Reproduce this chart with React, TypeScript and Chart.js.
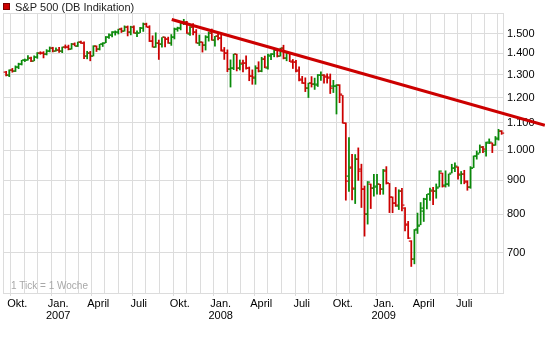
import React, { useEffect, useRef } from 'react';
import { Chart, registerables } from 'chart.js';

Chart.register(...registerables);

const SERIES_LABEL = 'S&P 500 (DB Indikation)';
const NOTE_TEXT = '1 Tick = 1 Woche';
const FIRST_WEEK = '2006-09-04';
const X_RANGE = ['2006-08-30', '2009-09-26'];
const Y_RANGE = [608, 1611];
const Y_TICKS = [700, 800, 900, 1000, 1100, 1200, 1300, 1400, 1500];
const MONTH_LABELS: Record<number, string> = { 9: 'Okt.', 0: 'Jan.', 3: 'April', 6: 'Juli' };

const TREND_DATES = ['2007-09-13', '2009-12-29'];
const TREND_VALUES = [1575, 1090];

const opens = [
  1311.0, 1298.9, 1319.7, 1314.8, 1335.8, 1349.6, 1365.6, 1368.6, 1377.3, 1364.3,
  1380.6, 1401.2, 1400.9, 1396.7, 1409.8, 1427.1, 1410.8, 1418.0, 1409.3, 1430.7,
  1430.5, 1422.0, 1448.3, 1438.0, 1455.5, 1451.0, 1387.1, 1402.8, 1387.0, 1436.1,
  1420.8, 1443.8, 1452.9, 1484.4, 1494.1, 1505.6, 1505.9, 1522.8, 1515.6, 1536.3,
  1507.7, 1532.9, 1502.6, 1504.7, 1530.4, 1552.5, 1534.1, 1459.0, 1433.0, 1453.4,
  1445.6, 1479.4, 1474.0, 1453.5, 1484.3, 1525.8, 1527.3, 1556.5, 1562.0, 1497.8,
  1536.0, 1505.6, 1453.4, 1456.7, 1440.7, 1479.6, 1505.1, 1465.1, 1484.6, 1478.1,
  1414.9, 1402.9, 1325.2, 1330.7, 1395.4, 1331.1, 1355.9, 1352.8, 1330.5, 1293.2,
  1283.2, 1330.3, 1315.9, 1373.7, 1332.2, 1387.7, 1398.0, 1415.3, 1389.4, 1425.3,
  1376.0, 1399.6, 1360.8, 1360.3, 1319.8, 1278.1, 1262.9, 1239.5, 1261.8, 1257.8,
  1253.3, 1296.3, 1298.1, 1290.5, 1287.8, 1249.5, 1250.9, 1255.4, 1209.1, 1097.6,
  912.8, 941.0, 874.3, 968.7, 936.8, 873.2, 801.2, 888.6, 876.1, 881.1,
  887.2, 872.4, 929.2, 890.4, 849.6, 832.5, 823.1, 868.2, 818.6, 773.3,
  729.6, 683.3, 758.8, 771.0, 809.1, 842.3, 856.9, 868.3, 866.2, 879.2,
  923.0, 886.1, 887.0, 923.3, 940.4, 943.4, 918.1, 919.9, 894.3, 879.6,
  940.6, 978.6, 990.2, 1008.9, 998.2, 1026.6, 1025.2, 1016.4, 1040.0, 1068.0,
];
const highs = [
  1314.7, 1322.0, 1328.5, 1340.3, 1353.0, 1366.6, 1372.9, 1389.5, 1381.9, 1388.0,
  1403.8, 1407.9, 1408.3, 1418.3, 1431.6, 1430.0, 1427.7, 1429.4, 1431.2, 1441.6,
  1440.7, 1449.3, 1452.0, 1456.1, 1461.6, 1456.9, 1410.1, 1409.5, 1437.7, 1437.0,
  1444.9, 1453.1, 1484.7, 1498.0, 1510.3, 1513.8, 1522.8, 1529.3, 1540.6, 1540.0,
  1538.7, 1540.4, 1514.3, 1532.4, 1555.9, 1555.2, 1541.5, 1488.3, 1503.9, 1466.3,
  1479.4, 1481.5, 1481.5, 1494.6, 1529.0, 1533.7, 1561.2, 1576.1, 1564.7, 1536.9,
  1552.8, 1520.8, 1492.1, 1456.7, 1488.9, 1508.3, 1523.6, 1485.4, 1498.9, 1492.5,
  1429.0, 1417.0, 1368.6, 1396.0, 1396.0, 1368.0, 1367.9, 1388.3, 1335.1, 1321.7,
  1341.0, 1359.7, 1380.9, 1386.7, 1395.9, 1399.1, 1415.0, 1415.3, 1425.8, 1440.2,
  1406.3, 1404.1, 1370.6, 1366.6, 1335.6, 1292.2, 1285.7, 1262.3, 1291.2, 1284.4,
  1300.7, 1313.2, 1300.2, 1303.7, 1303.0, 1274.4, 1255.8, 1255.5, 1209.1, 1099.3,
  1044.3, 985.4, 984.4, 1007.5, 952.0, 882.3, 896.3, 888.6, 918.9, 918.9,
  887.4, 934.7, 943.9, 890.4, 849.6, 877.9, 870.8, 875.0, 818.6, 780.1,
  729.6, 758.3, 803.0, 833.0, 845.6, 856.9, 875.6, 878.6, 888.7, 930.2,
  923.0, 930.2, 920.0, 951.7, 956.2, 943.4, 928.0, 931.9, 898.7, 944.0,
  979.8, 996.7, 1018.0, 1013.1, 1027.6, 1039.5, 1025.2, 1048.2, 1074.8, 1070.0,
];
const lows = [
  1294.1, 1290.9, 1310.9, 1313.9, 1327.1, 1344.3, 1360.2, 1366.7, 1360.0, 1364.0,
  1375.6, 1395.4, 1377.8, 1392.0, 1407.0, 1406.8, 1410.4, 1403.9, 1403.3, 1424.8,
  1416.9, 1420.2, 1436.6, 1433.5, 1449.5, 1374.1, 1373.4, 1364.0, 1387.0, 1408.9,
  1416.4, 1433.8, 1452.9, 1474.4, 1481.8, 1491.4, 1497.5, 1505.2, 1511.9, 1487.4,
  1492.7, 1502.3, 1484.2, 1504.7, 1510.9, 1533.7, 1458.4, 1430.5, 1429.4, 1370.6,
  1430.5, 1432.0, 1449.6, 1439.3, 1471.8, 1511.8, 1518.9, 1546.7, 1500.3, 1490.0,
  1492.8, 1450.9, 1438.5, 1406.1, 1416.0, 1460.7, 1465.0, 1435.7, 1467.0, 1411.2,
  1370.6, 1313.2, 1245.0, 1322.6, 1316.8, 1321.1, 1312.9, 1325.2, 1272.7, 1257.0,
  1257.0, 1312.0, 1312.8, 1331.3, 1324.4, 1369.8, 1383.1, 1382.2, 1386.2, 1373.1,
  1364.1, 1359.9, 1328.0, 1312.6, 1272.0, 1260.7, 1225.4, 1200.4, 1245.0, 1234.7,
  1247.5, 1274.6, 1261.9, 1262.2, 1217.2, 1221.4, 1133.5, 1179.0, 1097.6, 839.8,
  865.8, 840.9, 830.0, 899.7, 818.7, 741.0, 772.7, 815.7, 851.4, 857.7,
  857.1, 857.3, 888.3, 804.3, 804.0, 821.7, 812.9, 808.7, 754.3, 734.5,
  666.8, 672.9, 747.9, 771.0, 779.8, 814.5, 838.8, 826.8, 845.5, 879.2,
  878.9, 878.9, 881.5, 923.3, 927.6, 903.8, 888.9, 889.1, 869.3, 875.3,
  940.6, 968.7, 990.2, 990.6, 978.5, 1022.5, 991.0, 1016.4, 1035.0, 1056.0,
];
const closes = [
  1298.9, 1319.7, 1314.8, 1335.9, 1349.6, 1365.6, 1368.6, 1377.3, 1364.3, 1380.9,
  1401.2, 1400.9, 1396.7, 1409.8, 1427.1, 1410.8, 1418.3, 1409.7, 1430.7, 1430.5,
  1422.2, 1448.4, 1438.1, 1455.5, 1451.2, 1387.2, 1402.8, 1387.0, 1436.1, 1420.9,
  1443.8, 1452.9, 1484.4, 1494.1, 1505.6, 1505.9, 1522.8, 1515.7, 1536.3, 1507.7,
  1532.9, 1502.6, 1503.4, 1530.4, 1552.5, 1534.1, 1459.0, 1433.1, 1453.6, 1445.9,
  1479.4, 1474.0, 1453.6, 1484.3, 1525.8, 1526.8, 1557.6, 1561.8, 1500.6, 1535.3,
  1509.7, 1453.7, 1458.7, 1440.7, 1481.1, 1504.7, 1468.0, 1484.5, 1478.5, 1411.6,
  1401.0, 1325.2, 1330.6, 1395.4, 1331.3, 1350.0, 1353.1, 1330.6, 1293.4, 1288.1,
  1329.5, 1315.2, 1370.4, 1332.8, 1390.3, 1397.8, 1413.9, 1388.3, 1425.4, 1375.9,
  1400.4, 1360.7, 1360.0, 1317.9, 1278.4, 1262.9, 1239.5, 1260.7, 1257.8, 1260.3,
  1296.3, 1298.2, 1292.2, 1282.8, 1242.3, 1251.7, 1255.1, 1213.3, 1099.2, 899.2,
  940.6, 876.8, 968.8, 931.0, 873.3, 800.0, 896.2, 876.1, 879.7, 887.9,
  872.8, 931.8, 890.4, 850.1, 832.0, 825.9, 868.6, 826.8, 770.1, 735.1,
  683.4, 756.6, 768.5, 815.9, 842.5, 856.6, 869.6, 866.2, 877.5, 929.2,
  882.9, 887.0, 919.1, 940.1, 946.2, 921.2, 918.9, 896.4, 879.1, 940.4,
  979.3, 987.5, 1010.5, 1004.1, 1026.1, 1028.9, 1016.4, 1042.7, 1068.3, 1062.0,
];

const UP_COLOR = '#0a8a0a';
const DOWN_COLOR = '#cc0000';
const GRID_COLOR = '#dcdcdc';
const FONT_FAMILY = '"Liberation Sans", Arial, sans-serif';

const day = (s: string) => Date.parse(s + 'T00:00:00Z') / 86400000;
const weekX = (i: number) => day(FIRST_WEEK) + 7 * i + 2;

function buildXTicks() {
  const ticks: { value: number; label: string | string[]; major: boolean }[] = [];
  const min = day(X_RANGE[0]);
  const max = day(X_RANGE[1]);
  ticks.push({ value: min, label: '', major: false });
  for (let y = 2006; y <= 2009; y++) {
    for (let m = 0; m < 12; m++) {
      const v = Date.UTC(y, m, 1) / 86400000;
      if (v <= min || v >= max) continue;
      const name = MONTH_LABELS[m];
      let label: string | string[] = '';
      if (name) label = m === 0 ? [name, String(y)] : name;
      ticks.push({ value: v, label, major: !!name });
    }
  }
  ticks.push({ value: max, label: '', major: false });
  return ticks;
}

const fmt = (v: number) => String(v).replace(/\B(?=(\d{3})+(?!\d))/g, '.');

export default function App() {
  const ref = useRef<HTMLCanvasElement | null>(null);

  useEffect(() => {
    document.body.style.margin = '0';
    const canvas = ref.current;
    if (!canvas) return;
    const xTicks = buildXTicks();
    const yTickList = [Y_RANGE[0], ...Y_TICKS, Y_RANGE[1]];

    const ohlcTicks = {
      id: 'ohlcTicks',
      beforeDatasetsDraw(chart: any) {
        const { ctx, chartArea } = chart;
        ctx.save();
        ctx.font = `10px ${FONT_FAMILY}`;
        ctx.fillStyle = '#a8a8a8';
        ctx.textBaseline = 'alphabetic';
        ctx.textAlign = 'left';
        ctx.fillText(NOTE_TEXT, chartArea.left + 8, chartArea.bottom - 4);
        ctx.restore();
      },
      afterDatasetDraw(chart: any, args: any) {
        if (args.index !== 1) return;
        const { ctx } = chart;
        const xs = chart.scales.x;
        const ys = chart.scales.y;
        ctx.save();
        for (let i = 0; i < opens.length; i++) {
          const px = xs.getPixelForValue(weekX(i));
          ctx.fillStyle = closes[i] >= opens[i] ? UP_COLOR : DOWN_COLOR;
          const yo = Math.round(ys.getPixelForValue(opens[i]));
          const yc = Math.round(ys.getPixelForValue(closes[i]));
          ctx.fillRect(px - 2.5, yo - 0.5, 2, 1.2);
          ctx.fillRect(px + 0.5, yc - 0.5, 2, 1.2);
        }
        ctx.restore();
      },
      afterDraw(chart: any) {
        const { ctx } = chart;
        ctx.save();
        ctx.fillStyle = DOWN_COLOR;
        ctx.fillRect(3, 3, 7, 7);
        ctx.strokeStyle = '#7a0000';
        ctx.lineWidth = 1;
        ctx.strokeRect(3.5, 3.5, 6, 6);
        ctx.font = `11px ${FONT_FAMILY}`;
        ctx.fillStyle = '#222';
        ctx.textBaseline = 'alphabetic';
        ctx.textAlign = 'left';
        ctx.fillText(chart.data.datasets[1].label, 15, 11);
        ctx.restore();
      },
    };

    const chart = new Chart(canvas, {
      type: 'bar',
      data: {
        datasets: [
          {
            type: 'line',
            label: 'Trend',
            data: TREND_DATES.map((d, i) => ({ x: day(d), y: TREND_VALUES[i] })),
            borderColor: DOWN_COLOR,
            borderWidth: 3,
            pointRadius: 0,
            clip: false,
          } as any,
          {
            type: 'bar',
            label: SERIES_LABEL,
            data: opens.map((_, i) => ({ x: weekX(i), y: [lows[i], highs[i]] })),
            backgroundColor: opens.map((o, i) => (closes[i] >= o ? UP_COLOR : DOWN_COLOR)),
            borderWidth: 0,
            barThickness: 1.1,
            grouped: false,
          } as any,
        ],
      },
      options: {
        responsive: false,
        animation: false,
        devicePixelRatio: 1,
        layout: { padding: { top: 13, left: 3, right: 0, bottom: 0 } },
        plugins: { legend: { display: false }, tooltip: { enabled: false }, title: { display: false } },
        scales: {
          x: {
            type: 'linear',
            offset: false,
            min: day(X_RANGE[0]),
            max: day(X_RANGE[1]),
            afterBuildTicks: (s: any) => {
              s.ticks = xTicks.map((t) => ({ value: t.value }));
            },
            afterFit: (s: any) => {
              s.height = 59;
            },
            grid: {
              color: GRID_COLOR,
              tickLength: 3,
              tickColor: (c: any) => {
                const t = xTicks.find((k) => k.value === c.tick?.value);
                return t && t.major ? GRID_COLOR : 'rgba(0,0,0,0)';
              },
            },
            border: { color: GRID_COLOR },
            ticks: {
              autoSkip: false,
              maxRotation: 0,
              minRotation: 0,
              padding: 2,
              color: '#000',
              font: { family: FONT_FAMILY, size: 11, lineHeight: 1.1 },
              callback: (v: any) => {
                const t = xTicks.find((k) => k.value === v);
                return t ? t.label : '';
              },
            },
          },
          y: {
            type: 'logarithmic',
            position: 'right',
            min: Y_RANGE[0],
            max: Y_RANGE[1],
            afterBuildTicks: (s: any) => {
              s.ticks = yTickList.map((v) => ({ value: v }));
            },
            afterFit: (s: any) => {
              s.width = 42;
            },
            grid: { color: GRID_COLOR, drawTicks: false },
            border: { color: GRID_COLOR },
            ticks: {
              autoSkip: false,
              padding: 4,
              color: '#000',
              font: { family: FONT_FAMILY, size: 11 },
              callback: (v: any) => (Y_TICKS.includes(Number(v)) ? fmt(Number(v)) : ''),
            },
          },
        },
      } as any,
      plugins: [ohlcTicks],
    });
    return () => chart.destroy();
  }, []);

  return (
    <canvas
      ref={ref}
      width={545}
      height={352}
      style={{ display: 'block', width: 545, height: 352 }}
    />
  );
}
